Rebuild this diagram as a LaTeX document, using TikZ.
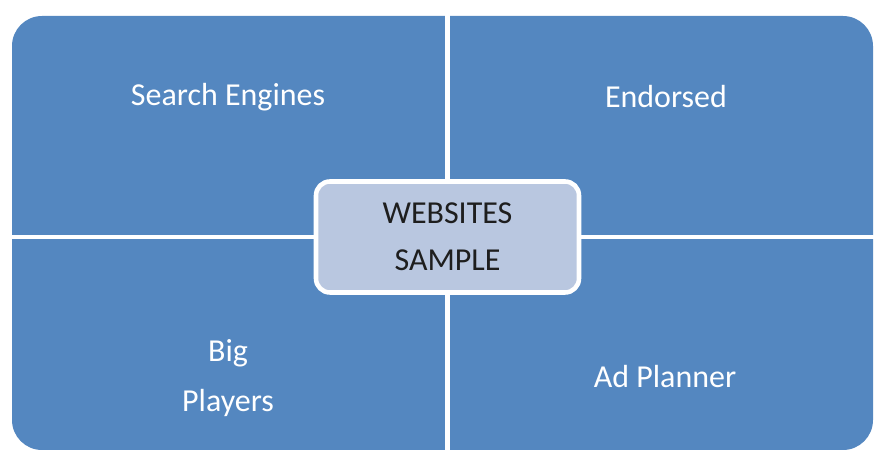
\documentclass[tikz,border=0pt]{standalone}
\usepackage{fontspec}
\setmainfont{Carlito}
\usetikzlibrary{positioning}
\definecolor{quadblue}{RGB}{84,135,192}
\definecolor{hubblue}{RGB}{185,199,224}
\definecolor{hubtext}{RGB}{30,30,30}

\begin{document}
\begin{tikzpicture}[x=1cm, y=-1cm,
    panel/.style={rectangle, fill=quadblue, rounded corners=0.3cm,
        minimum width=8.61cm, minimum height=4.34cm, inner sep=0pt},
    divider/.style={draw=white, line width=1.2pt},
    hub/.style={rectangle, draw=white, fill=hubblue, line width=1.3pt,
        rounded corners=0.14cm, minimum width=2.63cm, minimum height=1.11cm,
        text=hubtext, align=center, font=\fontsize{9.1}{13.4}\selectfont},
    quadrant/.style={text=white, align=center,
        font=\fontsize{9.1}{14}\selectfont}
]
\useasboundingbox (0,0) rectangle (8.74,4.51);
\node (Panel) [panel] at (4.425,2.33) {};
\node (Hub) at (4.475,2.37) {};

\draw [divider] (Panel.north -| Hub.center) -- (Panel.south -| Hub.center);
\draw [divider] (Panel.west |- Hub.center) -- (Panel.east |- Hub.center);

\node (Websites) [hub] at (Hub.center) {WEBSITES\\SAMPLE};

\node (SearchEngines) [quadrant] at (2.28,0.97) {Search Engines};
\node (Endorsed) [quadrant] at (6.66,0.97) {Endorsed};
\node (BigPlayers) [quadrant] at (2.28,3.78) {Big\\Players};
\node (AdPlanner) [quadrant] at (6.65,3.77) {Ad Planner};

\end{tikzpicture}
\end{document}
